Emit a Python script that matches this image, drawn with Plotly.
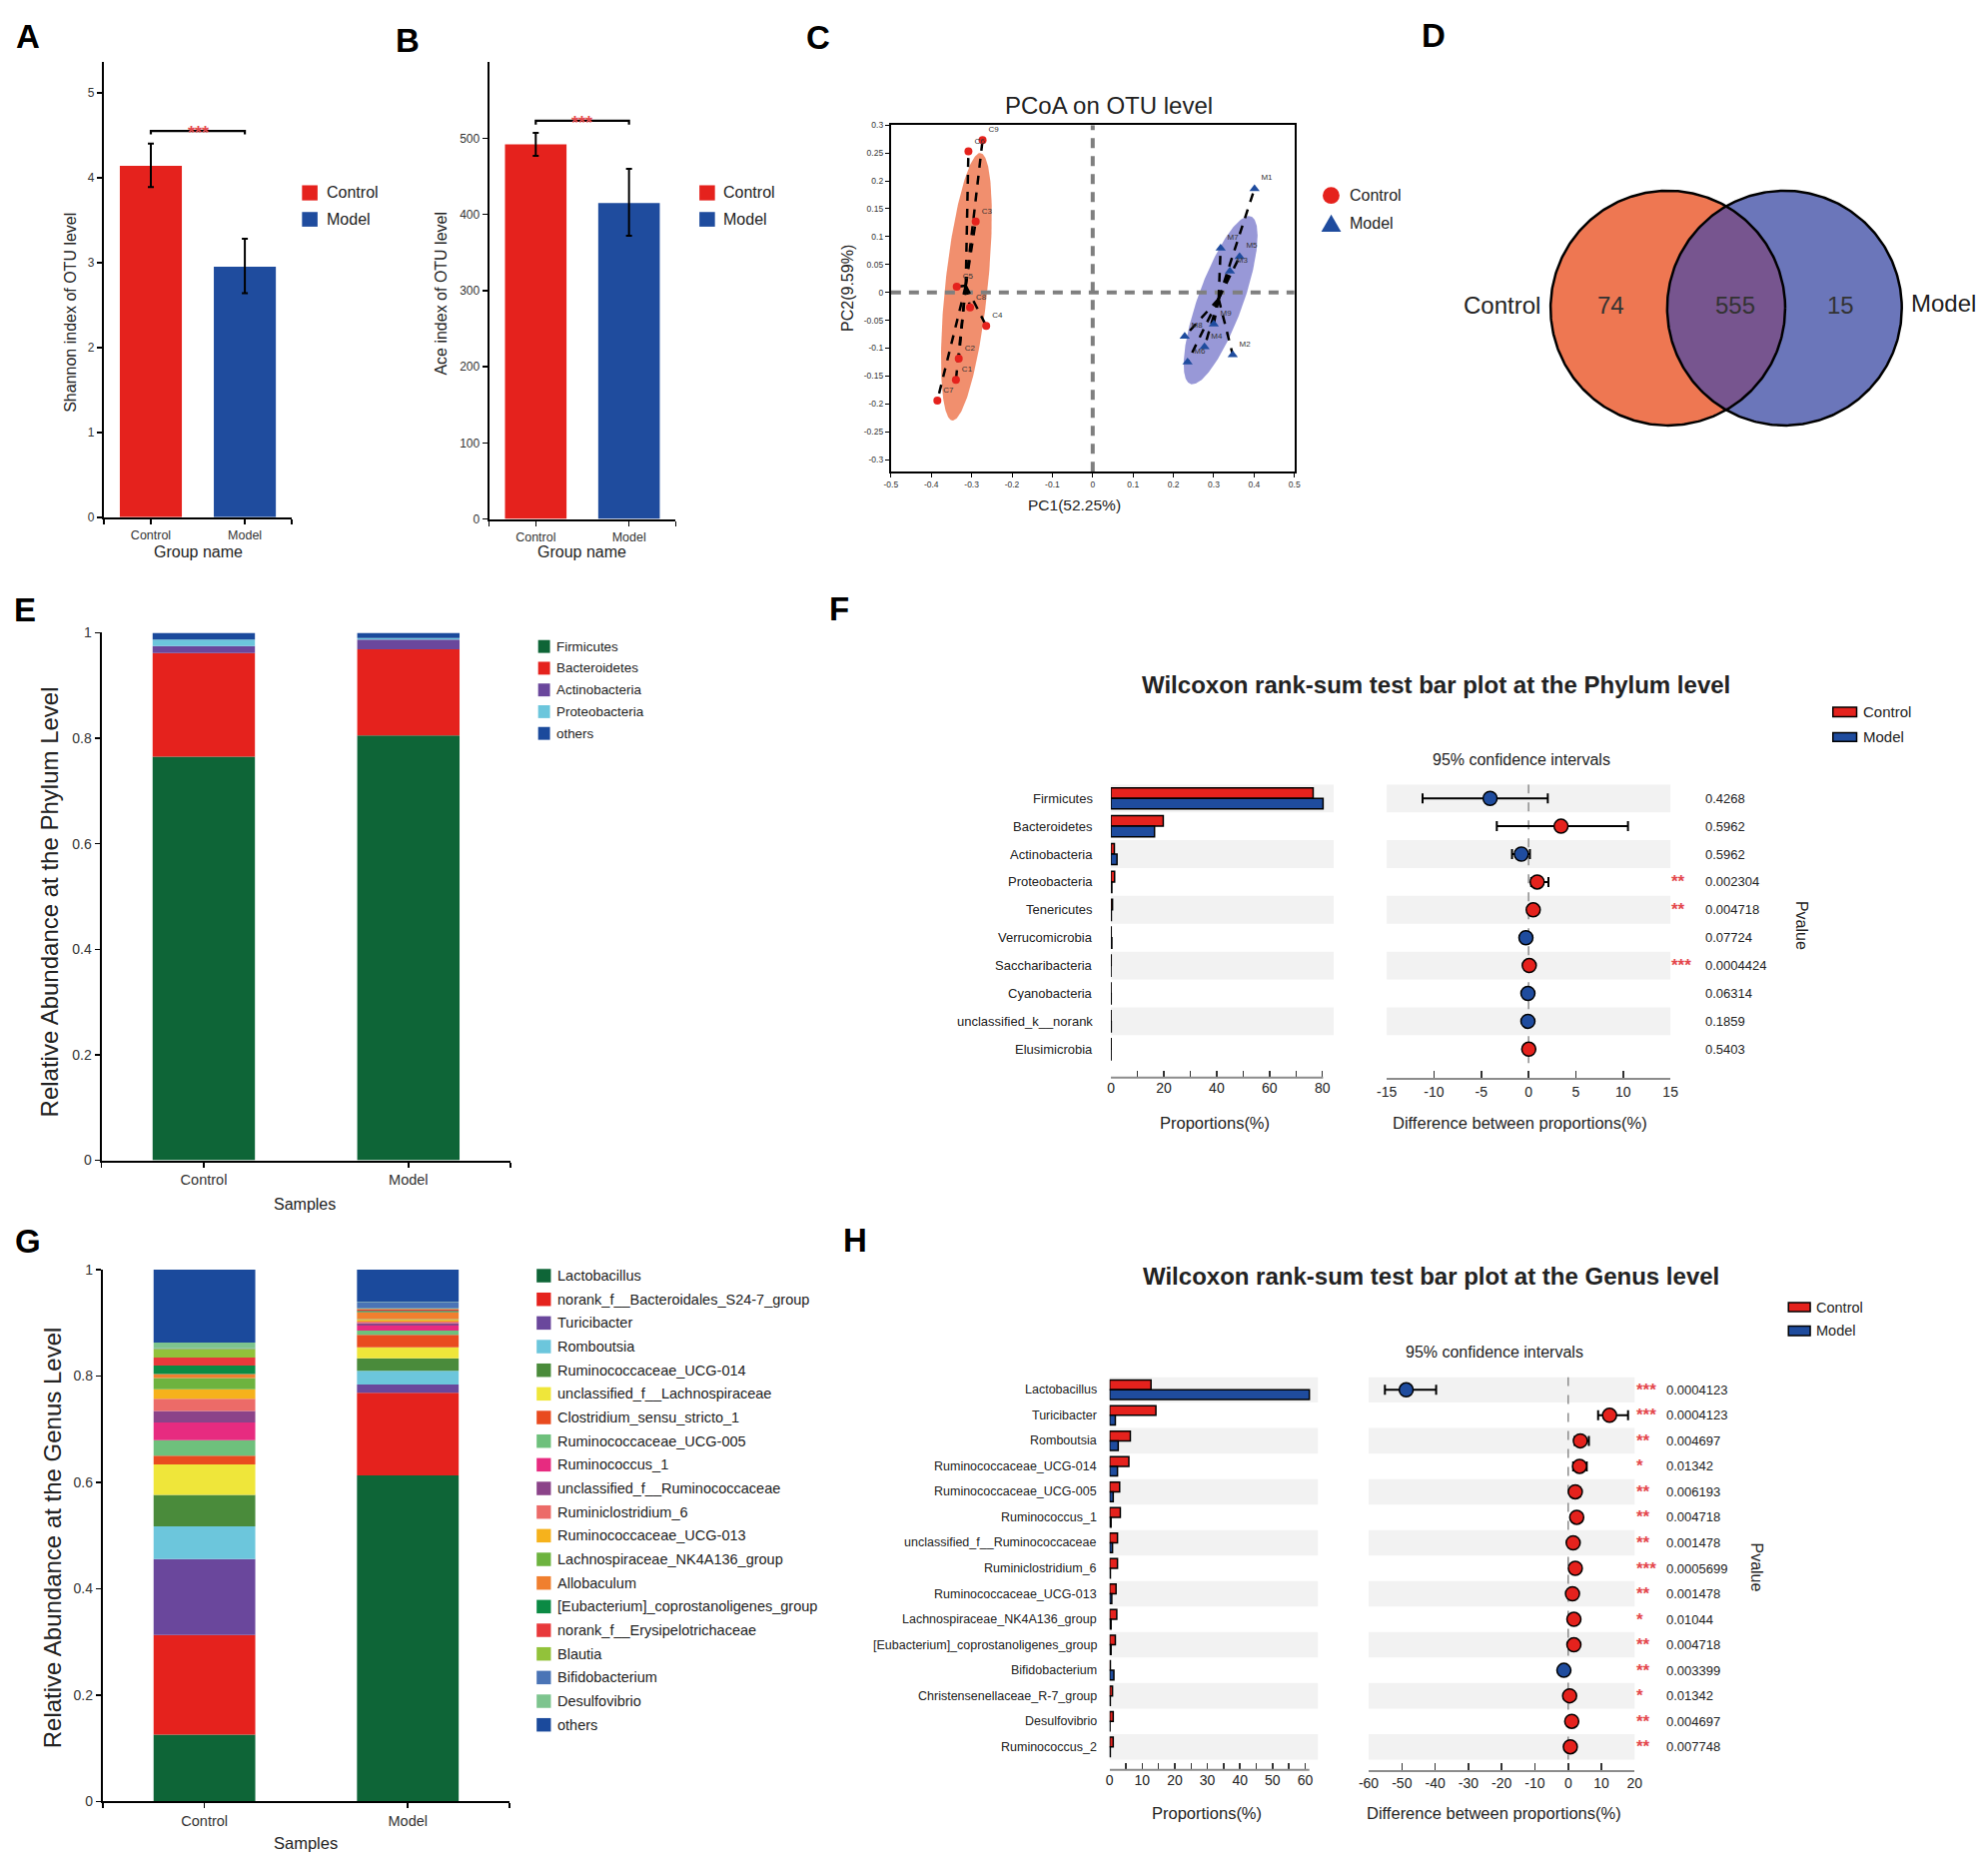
import numpy as np
import plotly.graph_objects as go

W, H = 1990, 1868
FONT = "Liberation Sans, Arial, Helvetica, sans-serif"
RED = "#E5221D"
BLUE = "#1F4C9E"
STAR = "#E4474C"

# ============================ DATA ============================
groups = ["Control", "Model"]

# A: Shannon index
shannon_mean = [4.14, 2.95]
shannon_upper = [4.40, 3.28]
shannon_lower = [3.89, 2.64]
shannon_bracket = [4.51, 4.55]

# B: Ace index
ace_mean = [492, 415]
ace_upper = [507, 460]
ace_lower = [477, 372]
ace_bracket = [518, 523]

# C: PCoA
ctrl_ids = ["C1", "C2", "C3", "C4", "C5", "C6", "C7", "C8", "C9"]
ctrl_pc1 = [-0.339, -0.332, -0.290, -0.264, -0.337, -0.308, -0.385, -0.304, -0.273]
ctrl_pc2 = [-0.157, -0.119, 0.127, -0.060, 0.010, 0.253, -0.194, -0.027, 0.273]
model_ids = ["M1", "M2", "M3", "M4", "M5", "M6", "M7", "M8", "M9"]
model_pc1 = [0.401, 0.347, 0.340, 0.277, 0.364, 0.235, 0.317, 0.228, 0.300]
model_pc2 = [0.186, -0.112, 0.038, -0.098, 0.064, -0.125, 0.079, -0.079, -0.057]
# ellipses: centre, semi-diameter to top point, horizontal semi-diameter
ctrl_ell_center = [-0.313, 0.010]
ctrl_ell_a = [0.034, 0.240]
ctrl_ell_b = [0.053, 0.0]
model_ell_center = [0.317, -0.014]
model_ell_a = [0.070, 0.151]
model_ell_b = [0.059, 0.0]

# D: Venn
venn_counts = [74, 555, 15]

# E: phylum composition
phylum_names = ["Firmicutes", "Bacteroidetes", "Actinobacteria", "Proteobacteria", "others"]
phylum_colors = ["#0E6537", "#E5221D", "#6A479C", "#6CC6DC", "#1B4A9C"]
phylum_control = [0.7648, 0.1969, 0.0130, 0.0123, 0.0130]
phylum_model = [0.8054, 0.1632, 0.0184, 0.0030, 0.0100]

# G: genus composition
genus_names = ["Lactobacillus", "norank_f__Bacteroidales_S24-7_group", "Turicibacter", "Romboutsia",
               "Ruminococcaceae_UCG-014", "unclassified_f__Lachnospiraceae", "Clostridium_sensu_stricto_1",
               "Ruminococcaceae_UCG-005", "Ruminococcus_1", "unclassified_f__Ruminococcaceae",
               "Ruminiclostridium_6", "Ruminococcaceae_UCG-013", "Lachnospiraceae_NK4A136_group",
               "Allobaculum", "[Eubacterium]_coprostanoligenes_group", "norank_f__Erysipelotrichaceae",
               "Blautia", "Bifidobacterium", "Desulfovibrio", "others"]
genus_colors = ["#0E6537", "#E5221D", "#6A479C", "#6CC6DC", "#4A8B3B", "#EFE63A", "#E94B1F",
                "#6EC07C", "#E72B80", "#8B4389", "#EC6B68", "#F6B21C", "#6DB33F", "#F07F2F",
                "#0B8A44", "#E8393B", "#92C23A", "#4A74B6", "#7DC48E", "#1B4A9C"]
genus_control = [0.1258, 0.1871, 0.1431, 0.0614, 0.0591, 0.0575, 0.0160, 0.0295, 0.0330, 0.0217,
                 0.0229, 0.0180, 0.0212, 0.0074, 0.0161, 0.0149, 0.0164, 0.0010, 0.0106, 0.1373]
genus_model = [0.6130, 0.1553, 0.0155, 0.0261, 0.0236, 0.0205, 0.0236, 0.0080, 0.0090, 0.0050,
               0.0025, 0.0035, 0.0015, 0.0133, 0.0020, 0.0035, 0.0015, 0.0121, 0.0005, 0.0600]

# F: Wilcoxon test, phylum level
f_names = ["Firmicutes", "Bacteroidetes", "Actinobacteria", "Proteobacteria", "Tenericutes",
           "Verrucomicrobia", "Saccharibacteria", "Cyanobacteria", "unclassified_k__norank", "Elusimicrobia"]
f_ctrl = [76.5, 19.8, 1.3, 1.4, 0.6, 0.1, 0.1, 0.05, 0.05, 0.08]
f_model = [80.25, 16.5, 2.3, 0.35, 0.15, 0.35, 0.02, 0.1, 0.12, 0.05]
f_diff = [-4.07, 3.43, -0.77, 0.91, 0.49, -0.28, 0.07, -0.07, -0.07, 0.02]
f_lo = [-11.21, -3.36, -1.75, 0.28, 0.14, -0.63, -0.14, -0.28, -0.28, -0.20]
f_hi = [2.03, 10.51, 0.14, 2.10, 0.84, 0.0, 0.28, 0.07, 0.07, 0.25]
f_p = ["0.4268", "0.5962", "0.5962", "0.002304", "0.004718", "0.07724", "0.0004424", "0.06314", "0.1859", "0.5403"]

# H: Wilcoxon test, genus level
h_names = ["Lactobacillus", "Turicibacter", "Romboutsia", "Ruminococcaceae_UCG-014", "Ruminococcaceae_UCG-005",
           "Ruminococcus_1", "unclassified_f__Ruminococcaceae", "Ruminiclostridium_6", "Ruminococcaceae_UCG-013",
           "Lachnospiraceae_NK4A136_group", "[Eubacterium]_coprostanoligenes_group", "Bifidobacterium",
           "Christensenellaceae_R-7_group", "Desulfovibrio", "Ruminococcus_2"]
h_ctrl = [12.7, 14.2, 6.35, 5.9, 3.07, 3.28, 2.41, 2.41, 1.97, 2.19, 1.75, 0.22, 0.88, 1.1, 1.1]
h_model = [61.3, 1.75, 2.63, 2.41, 1.1, 0.44, 0.88, 0.22, 0.66, 0.44, 0.44, 1.31, 0.2, 0.1, 0.2]
h_diff = [-48.7, 12.44, 3.65, 3.43, 2.14, 2.57, 1.5, 2.14, 1.29, 1.72, 1.72, -1.29, 0.43, 1.07, 0.64]
h_lo = [-55.1, 9.0, 1.93, 1.5, 0.86, 1.29, 0.43, 1.07, 0.21, 0.64, 0.43, -2.36, -0.43, 0.0, -0.21]
h_hi = [-39.7, 18.0, 6.22, 5.58, 3.65, 4.07, 2.57, 3.22, 2.36, 2.79, 3.0, -0.21, 1.29, 2.36, 1.5]
h_p = ["0.0004123", "0.0004123", "0.004697", "0.01342", "0.006193", "0.004718", "0.001478", "0.0005699",
       "0.001478", "0.01044", "0.004718", "0.003399", "0.01342", "0.004697", "0.007748"]

# ============================ HELPERS ============================
fig = go.Figure()
shapes, ann = [], []


def px_x(x):
    return x / W


def px_y(y):
    return 1 - y / H


def dom_x(a, b):
    return [a / W, b / W]


def dom_y(a, b):
    return [1 - b / H, 1 - a / H]


def add_text(x, y, s, size, color="#222", xanchor="center", yanchor="middle", angle=0,
             xref="paper", yref="paper", bold=False, yshift=0):
    ann.append(dict(x=px_x(x) if xref == "paper" else x, y=px_y(y) if yref == "paper" else y,
                    xref=xref, yref=yref, text=f"<b>{s}</b>" if bold else s, showarrow=False,
                    font=dict(family=FONT, size=size, color=color), xanchor=xanchor, yanchor=yanchor,
                    textangle=angle, yshift=yshift))


def rect_px(x0, y0, x1, y1, color, lw=0):
    shapes.append(dict(type="rect", xref="paper", yref="paper", x0=px_x(x0), x1=px_x(x1),
                       y0=px_y(y1), y1=px_y(y0), fillcolor=color, line=dict(width=lw, color="black")))


def base_axis(domain, rng, **kw):
    d = dict(domain=domain, range=rng, showgrid=False, zeroline=False, showline=False, ticks="",
             showticklabels=False, fixedrange=True, tickfont=dict(family=FONT, size=12, color="#333"))
    d.update(kw)
    return d


def stars(p):
    p = float(p)
    return "***" if p < 0.001 else "**" if p < 0.01 else "*" if p < 0.05 else ""


axes = {}
line_sty = dict(showline=True, linecolor="black", linewidth=2, ticks="outside", ticklen=5,
                tickwidth=1.5, tickcolor="black", showticklabels=True)

# ============================ A & B ============================
for k, (mean, up, lo, br, ydom, xdom, rng, tv, key) in enumerate([
        (shannon_mean, shannon_upper, shannon_lower, shannon_bracket, (54.7, 514.2), (94.8, 284.7),
         [0, 5.36], [0, 1, 2, 3, 4, 5], ""),
        (ace_mean, ace_upper, ace_lower, ace_bracket, (54.7, 516.0), (484.0, 672.4),
         [0, 600], [0, 100, 200, 300, 400, 500], "2")]):
    xa, ya = "x" + key, "y" + key
    axes["xaxis" + key] = base_axis(dom_x(*xdom), [-0.5, 1.5], anchor=ya, tickvals=[-0.5, 0, 1, 1.5],
                                    ticktext=["", groups[0], groups[1], ""], **line_sty)
    axes["xaxis" + key]["tickfont"] = dict(family=FONT, size=12.5, color="#333")
    axes["yaxis" + key] = base_axis(dom_y(*ydom), rng, anchor=xa, tickvals=tv,
                                    ticktext=[str(v) for v in tv], **line_sty)
    axes["yaxis" + key]["tickfont"] = dict(family=FONT, size=12, color="#333")
    fig.add_trace(go.Bar(x=[0, 1], y=mean, width=0.66, marker=dict(color=[RED, BLUE], line=dict(width=0)),
                         error_y=dict(type="data", symmetric=False, array=np.subtract(up, mean),
                                      arrayminus=np.subtract(mean, lo), color="black", thickness=2, width=3),
                         xaxis=xa, yaxis=ya))
    fig.add_trace(go.Scatter(x=[0, 0, 1, 1], y=[br[0], br[1], br[1], br[0]], mode="lines",
                             line=dict(color="black", width=2.2), xaxis=xa, yaxis=ya))
    add_text(0.5, br[1], "<b>***</b>", 18, color=STAR, xref=xa, yref=ya, yshift=-2)

# legends A, B
for lx in (295.0, 696.4):
    rect_px(lx, 179.0, lx + 15.7, 194.3, RED)
    rect_px(lx, 206.0, lx + 15.7, 220.8, BLUE)
    add_text(lx + 22.4, 186.5, "Control", 16, xanchor="left")
    add_text(lx + 22.4, 213.4, "Model", 16, xanchor="left")

add_text(61, 307, "Shannon index of OTU level", 16, angle=-90)
add_text(435, 288, "Ace index of OTU level", 16, angle=-90)
add_text(190, 549, "Group name", 16)
add_text(578, 549, "Group name", 16)

# ============================ C: PCoA ============================
xt = [round(v, 1) + 0.0 for v in np.arange(-0.5, 0.51, 0.1)]
yt = [round(v, 2) + 0.0 for v in np.arange(-0.3, 0.301, 0.05)]
c_sty = dict(showline=True, mirror=True, linecolor="black", linewidth=2, ticks="outside", ticklen=4,
             tickwidth=1, tickcolor="black", showticklabels=True)
axes["xaxis3"] = base_axis(dom_x(889.9, 1297.5), [-0.5, 0.5], anchor="y3", tickvals=xt,
                           ticktext=[f"{v:g}" for v in xt], **c_sty)
axes["xaxis3"]["tickfont"] = dict(family=FONT, size=8.5, color="#333")
axes["yaxis3"] = base_axis(dom_y(118.3, 468.3), [-0.322, 0.3], anchor="x3", tickvals=yt,
                           ticktext=[f"{v:g}" for v in yt], **c_sty)
axes["yaxis3"]["tickfont"] = dict(family=FONT, size=8.5, color="#333")

tt = np.linspace(0, 2 * np.pi, 240)
for cen, a, b, col in [(ctrl_ell_center, ctrl_ell_a, ctrl_ell_b, "rgba(238,118,78,0.82)"),
                       (model_ell_center, model_ell_a, model_ell_b, "rgba(112,112,200,0.72)")]:
    ex = cen[0] + a[0] * np.cos(tt) + b[0] * np.sin(tt)
    ey = cen[1] + a[1] * np.cos(tt) + b[1] * np.sin(tt)
    fig.add_trace(go.Scatter(x=ex, y=ey, mode="lines", fill="toself", fillcolor=col,
                             line=dict(width=0), xaxis="x3", yaxis="y3"))

fig.add_trace(go.Scatter(x=[-0.5, 0.5], y=[0, 0], mode="lines",
                         line=dict(color="#7F7F7F", width=4, dash="10px,8px"), xaxis="x3", yaxis="y3"))
fig.add_trace(go.Scatter(x=[0, 0], y=[-0.322, 0.3], mode="lines",
                         line=dict(color="#7F7F7F", width=4, dash="10px,8px"), xaxis="x3", yaxis="y3"))

for px_, py_ in [(ctrl_pc1, ctrl_pc2), (model_pc1, model_pc2)]:
    mx, my = np.mean(px_), np.mean(py_)
    sx, sy = [], []
    for xv, yv in zip(px_, py_):
        sx += [mx, xv, None]
        sy += [my, yv, None]
    fig.add_trace(go.Scatter(x=sx, y=sy, mode="lines", line=dict(color="black", width=2.5, dash="9px,8px"),
                             xaxis="x3", yaxis="y3"))

fig.add_trace(go.Scatter(x=ctrl_pc1, y=ctrl_pc2, mode="markers+text", text=ctrl_ids, textposition="top right",
                         textfont=dict(family=FONT, size=8, color="#333"),
                         marker=dict(symbol="circle", size=8, color=RED), xaxis="x3", yaxis="y3"))
fig.add_trace(go.Scatter(x=model_pc1, y=model_pc2, mode="markers+text", text=model_ids, textposition="top right",
                         textfont=dict(family=FONT, size=8, color="#333"),
                         marker=dict(symbol="triangle-up", size=9, color=BLUE), xaxis="x3", yaxis="y3"))

add_text(1110, 98, "PCoA on OTU level", 24)
add_text(1075, 502, "PC1(52.25%)", 15.5)
add_text(846, 283, "PC2(9.59%)", 16, angle=-90)
shapes.append(dict(type="circle", xref="paper", yref="paper", x0=px_x(1326), x1=px_x(1343),
                   y0=px_y(197.8), y1=px_y(180.8), fillcolor=RED, line=dict(width=0)))
shapes.append(dict(type="path", xref="paper", yref="paper",
                   path=f"M {px_x(1334.6)},{px_y(208.5)} L {px_x(1344.6)},{px_y(226)} L {px_x(1324.6)},{px_y(226)} Z",
                   fillcolor=BLUE, line=dict(width=0)))
add_text(1351, 189.3, "Control", 16, xanchor="left")
add_text(1351, 217.3, "Model", 16, xanchor="left")

# ============================ D: Venn ============================
axes["xaxis4"] = base_axis(dom_x(1440, 1990), [1440, 1990], anchor="y4", visible=False)
axes["yaxis4"] = base_axis(dom_y(150, 460), [460, 150], anchor="x4", visible=False)
vc_x, vc_y, vr = [1674.7, 1792.5], 303.0, 118.5
t360 = np.linspace(0, 2 * np.pi, 361)
for cxv, col in zip(vc_x, ["#EE7752", "#6B76BA"]):
    fig.add_trace(go.Scatter(x=cxv + vr * np.cos(t360), y=vc_y + vr * np.sin(t360), mode="lines",
                             fill="toself", fillcolor=col, line=dict(width=0), xaxis="x4", yaxis="y4"))
alpha = np.arccos((vc_x[1] - vc_x[0]) / 2 / vr)
t1 = np.linspace(-alpha, alpha, 120)
t2 = np.linspace(np.pi - alpha, np.pi + alpha, 120)
lx_ = np.concatenate([vc_x[0] + vr * np.cos(t1), vc_x[1] + vr * np.cos(t2)])
ly_ = np.concatenate([vc_y + vr * np.sin(t1), vc_y + vr * np.sin(t2)])
fig.add_trace(go.Scatter(x=lx_, y=ly_, mode="lines", fill="toself", fillcolor="#77558F",
                         line=dict(width=0), xaxis="x4", yaxis="y4"))
for cxv in vc_x:
    fig.add_trace(go.Scatter(x=cxv + vr * np.cos(t360), y=vc_y + vr * np.sin(t360), mode="lines",
                             line=dict(color="black", width=2.5), xaxis="x4", yaxis="y4"))
add_text(1547.5, 300, "Control", 24, xanchor="right", xref="x4", yref="y4")
add_text(1617.5, 300, str(venn_counts[0]), 24, color="#333", xref="x4", yref="y4")
add_text(1742.4, 300, str(venn_counts[1]), 24, color="#333", xref="x4", yref="y4")
add_text(1849.6, 300, str(venn_counts[2]), 24, color="#333", xref="x4", yref="y4")
add_text(1918.5, 298, "Model", 24, xanchor="left", xref="x4", yref="y4")

# ============================ E & G: stacked bars ============================
for key, xdom, ydom, names, cols, cvals, mvals in [
        ("5", (92.4, 505.8), (630.8, 1163.5), phylum_names, phylum_colors, phylum_control, phylum_model),
        ("8", (93.7, 504.6), (1273.9, 1811.0), genus_names, genus_colors, genus_control, genus_model)]:
    xa, ya = "x" + key, "y" + key
    axes["xaxis" + key] = base_axis(dom_x(*xdom), [-0.5, 1.5], anchor=ya, tickvals=[-0.5, 0, 1, 1.5],
                                    ticktext=["", groups[0], groups[1], ""], **line_sty)
    axes["xaxis" + key]["tickfont"] = dict(family=FONT, size=14.5, color="#333")
    yv = [0, 0.2, 0.4, 0.6, 0.8, 1]
    axes["yaxis" + key] = base_axis(dom_y(*ydom), [0, 1], anchor=xa, tickvals=yv,
                                    ticktext=[f"{v:g}" for v in yv], **line_sty)
    axes["yaxis" + key]["tickfont"] = dict(family=FONT, size=14, color="#333")
    cb = np.concatenate([[0], np.cumsum(cvals)[:-1]])
    mb = np.concatenate([[0], np.cumsum(mvals)[:-1]])
    for k in range(len(names)):
        fig.add_trace(go.Bar(x=[0, 1], y=[cvals[k], mvals[k]], base=[cb[k], mb[k]], width=0.5,
                             marker=dict(color=cols[k], line=dict(width=0)), xaxis=xa, yaxis=ya))

for k, nm in enumerate(phylum_names):
    yc = 644.7 + 21.94 * k
    rect_px(533.5, yc - 6.5, 545.5, yc + 6.5, phylum_colors[k])
    add_text(549.6, yc, nm, 13.4, xanchor="left")
for k, nm in enumerate(genus_names):
    yc = 1280.0 + 23.87 * k
    rect_px(532.0, yc - 6.8, 546.4, yc + 6.8, genus_colors[k])
    add_text(550.7, yc, nm, 14.5, xanchor="left")

add_text(39.5, 903, "Relative Abundance at the Phylum Level", 24, angle=-90)
add_text(297.8, 1207.6, "Samples", 16)
add_text(42.9, 1545, "Relative Abundance at the Genus Level", 24, angle=-90)
add_text(298.4, 1853, "Samples", 16.5)

# ============================ F & H: Wilcoxon ============================
panels = [
    dict(kl="6", kr="7", names=f_names, c=f_ctrl, m=f_model, d=f_diff, lo=f_lo, hi=f_hi, p=f_p,
         lx=(1112.1, 1337.1), lrng=84.26, rx=(1390.7, 1677.3), rrng=[-15, 15], ydom=(784, 1080),
         yrng=[10.02, -0.5], ltick=(10, 20), rtick=5, label_x=1096, lab_size=13, p_x=1710, star_x=1676.6),
    dict(kl="9", kr="10", names=h_names, c=h_ctrl, m=h_model, d=h_diff, lo=h_lo, hi=h_hi, p=h_p,
         lx=(1110.8, 1321.2), lrng=63.93, rx=(1372.4, 1641.2), rrng=[-60, 20], ydom=(1382.4, 1778.9),
         yrng=[14.9, -0.5], ltick=(5, 10), rtick=10, label_x=1100, lab_size=12.5, p_x=1671, star_x=1641),
]
for P in panels:
    kl, kr = P["kl"], P["kr"]
    n = len(P["names"])
    rows = np.arange(n)
    lmax = max(max(P["c"]), max(P["m"]))
    st, lab = P["ltick"]
    ltv = list(np.arange(0, lmax + 0.01, st))
    axes["xaxis" + kl] = base_axis(dom_x(*P["lx"]), [0, P["lrng"]], anchor="y" + kl, tickvals=ltv,
                                   ticktext=[f"{v:g}" if abs(v / lab - round(v / lab)) < 1e-6 else "" for v in ltv],
                                   ticks="inside", ticklen=7, tickwidth=1.5, tickcolor="#333",
                                   showticklabels=True)
    axes["xaxis" + kl]["tickfont"] = dict(family=FONT, size=14, color="#222")
    axes["yaxis" + kl] = base_axis(dom_y(*P["ydom"]), P["yrng"], anchor="x" + kl)
    rtv = list(np.arange(P["rrng"][0], P["rrng"][1] + 0.01, P["rtick"]))
    axes["xaxis" + kr] = base_axis(dom_x(*P["rx"]), P["rrng"], anchor="y" + kr, tickvals=rtv,
                                   ticktext=[f"{v:g}" for v in rtv], ticks="inside", ticklen=7,
                                   tickwidth=1.5, tickcolor="#333", showticklabels=True,
                                   showline=True, linecolor="#8C8C8C", linewidth=2)
    axes["xaxis" + kr]["tickfont"] = dict(family=FONT, size=14, color="#222")
    axes["yaxis" + kr] = base_axis(dom_y(*P["ydom"]), P["yrng"], anchor="x" + kr)

    for i in rows[::2]:
        for kk in (kl, kr):
            shapes.append(dict(type="rect", xref=f"x{kk} domain", yref=f"y{kk}", x0=0, x1=1,
                               y0=i - 0.5, y1=i + 0.5, fillcolor="#F2F2F2", line=dict(width=0), layer="below"))
    shapes.append(dict(type="line", xref="x" + kr, yref="y" + kr, x0=0, x1=0, y0=-0.5, y1=n - 0.5,
                       line=dict(color="#8C8C8C", width=1.5, dash="dash"), layer="below"))
    shapes.append(dict(type="line", xref="x" + kl, yref=f"y{kl} domain", x0=0, x1=lmax, y0=0, y1=0,
                       line=dict(color="#8C8C8C", width=2)))

    fig.add_trace(go.Bar(orientation="h", y=rows, x=P["c"], offset=-0.38, width=0.38,
                         marker=dict(color=RED, line=dict(color="black", width=1.5)),
                         xaxis="x" + kl, yaxis="y" + kl))
    fig.add_trace(go.Bar(orientation="h", y=rows, x=P["m"], offset=0.0, width=0.38,
                         marker=dict(color=BLUE, line=dict(color="black", width=1.5)),
                         xaxis="x" + kl, yaxis="y" + kl))
    cols = [RED if v > 0 else BLUE for v in P["d"]]
    fig.add_trace(go.Scatter(x=P["d"], y=rows, mode="markers",
                             marker=dict(size=14, color=cols, line=dict(color="black", width=1.5)),
                             error_x=dict(type="data", symmetric=False, array=np.subtract(P["hi"], P["d"]),
                                          arrayminus=np.subtract(P["d"], P["lo"]), color="black",
                                          thickness=2, width=5),
                             xaxis="x" + kr, yaxis="y" + kr))
    for i in rows:
        add_text(P["label_x"], i, P["names"][i], P["lab_size"], xanchor="right", yref="y" + kl)
        add_text(P["p_x"], i, P["p"][i], 13, xanchor="left", yref="y" + kr)
        s = stars(P["p"][i])
        if s:
            add_text(P["star_x"], i, f"<b>{s}</b>", 17, color=STAR, xanchor="left", yref="y" + kr, yshift=0)

# F texts
add_text(1440.6, 683.3, "Wilcoxon rank-sum test bar plot at the Phylum level", 24, bold=True)
add_text(1526.6, 759.3, "95% confidence intervals", 16)
add_text(1216.9, 1125.7, "Proportions(%)", 16.5)
add_text(1525.0, 1125.7, "Difference between proportions(%)", 16.5)
add_text(1810.5, 926, "Pvalue", 16, angle=90)
rect_px(1841.4, 706.0, 1865.4, 715.7, RED, lw=1.5)
rect_px(1841.4, 731.7, 1865.4, 740.7, BLUE, lw=1.5)
add_text(1870.2, 710.8, "Control", 15, xanchor="left")
add_text(1870.2, 736.2, "Model", 15, xanchor="left")

# H texts
add_text(1435.3, 1280.5, "Wilcoxon rank-sum test bar plot at the Genus level", 24, bold=True)
add_text(1500, 1357.2, "95% confidence intervals", 16)
add_text(1208.8, 1822.7, "Proportions(%)", 16.5)
add_text(1499.2, 1822.7, "Difference between proportions(%)", 16.5)
add_text(1764.4, 1574.4, "Pvalue", 16, angle=90)
rect_px(1796.5, 1307.2, 1818.5, 1316.3, RED, lw=1.5)
rect_px(1796.5, 1330.8, 1818.5, 1340.6, BLUE, lw=1.5)
add_text(1822.9, 1312, "Control", 14.5, xanchor="left")
add_text(1822.9, 1335.7, "Model", 14.5, xanchor="left")

# panel letters
for letter, lx, ly in [("A", 18, 29), ("B", 402, 33), ("C", 816, 30), ("D", 1438, 28),
                       ("E", 15, 608), ("F", 837.5, 607), ("G", 18, 1245), ("H", 854, 1244)]:
    add_text(lx, ly, letter, 33, color="black", bold=True)

fig.update_layout(width=W, height=H, margin=dict(l=0, r=0, t=0, b=0), paper_bgcolor="white",
                  plot_bgcolor="white", showlegend=False, barmode="overlay", hovermode=False,
                  font=dict(family=FONT, color="#222"), shapes=shapes, annotations=ann, **axes)
fig.write_html("out.html",
               config={"displayModeBar": False, "staticPlot": True},
               post_script="document.body.style.margin='0';document.body.style.padding='0';"
                           "document.documentElement.style.overflow='hidden';")
